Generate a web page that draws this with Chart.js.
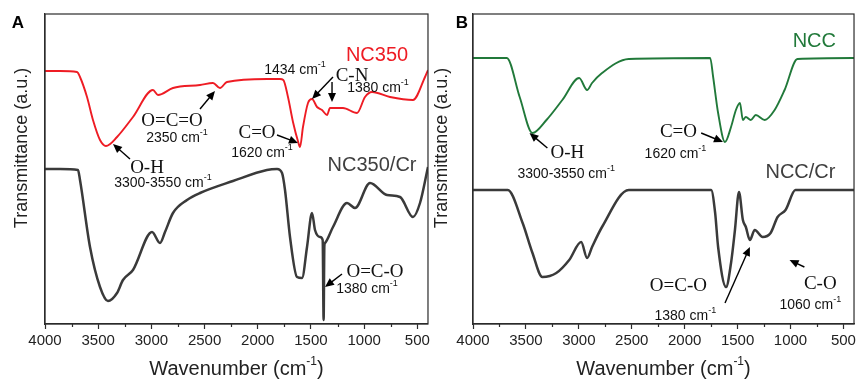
<!DOCTYPE html>
<html>
<head>
<meta charset="utf-8">
<script src="https://cdn.jsdelivr.net/npm/chart.js@4/dist/chart.umd.min.js"></script>
<style>
  html, body { margin: 0; padding: 0; background: #fff; }
  #wrap { position: relative; width: 859px; height: 386px; }
  .panel { position: absolute; top: 0; width: 433px; height: 386px; }
  #pa { left: 0; }
  #pb { left: 426px; }
</style>
</head>
<body>
<div id="wrap">
  <div class="panel" id="pa"><canvas id="chartA"></canvas></div>
  <div class="panel" id="pb"><canvas id="chartB"></canvas></div>
</div>
<script>
// FTIR spectra, wavenumber (cm-1) vs transmittance (a.u.)
var xTicks = [4000, 3500, 3000, 2500, 2000, 1500, 1000, 500];

var nc350Wn = [4000, 3859, 3699, 3671, 3605, 3549, 3483, 3427, 3323, 3173, 2985, 2938, 2797, 2543, 2421, 2355, 2290, 1914, 1792, 1760, 1716, 1669, 1620, 1603, 1575, 1528, 1490, 1443, 1396, 1349, 1321, 1199, 1067, 992, 926, 757, 541, 428, 400];
var nc350T  = [253, 253, 252, 247, 227, 204, 184, 178, 187, 207, 234, 229, 236, 239, 241, 236, 242, 245, 245, 244, 227, 202, 182, 177, 197, 221, 225, 217, 214, 209, 216, 216, 211, 227, 232, 227, 224, 247, 254];

var nc350CrWn = [4000, 3859, 3690, 3671, 3577, 3483, 3408, 3323, 3267, 3173, 2994, 2919, 2872, 2797, 2665, 2543, 2233, 1914, 1819, 1772, 1744, 1697, 1631, 1584, 1537, 1490, 1462, 1415, 1390, 1381, 1374, 1368, 1293, 1161, 1086, 945, 785, 663, 541, 475, 400];
var nc350CrT  = [155, 155, 154, 144, 77, 37, 23, 31, 44, 54, 92, 81, 92, 111, 124, 131, 143, 154, 155, 151, 134, 87, 47, 46, 77, 111, 94, 87, 84, 4, 78, 81, 97, 121, 116, 141, 129, 127, 107, 121, 157];

var nccWn = [4000, 3681, 3559, 3438, 3306, 3156, 2997, 2922, 2875, 2781, 2528, 1759, 1731, 1684, 1619, 1562, 1516, 1478, 1450, 1422, 1375, 1328, 1244, 1150, 1056, 934, 400];
var nccT  = [266, 266, 227, 191, 204, 224, 246, 234, 241, 251, 265, 266, 247, 211, 182, 197, 214, 221, 204, 207, 204, 209, 204, 214, 234, 265, 266];

var nccCrWn = [4000, 3672, 3531, 3438, 3344, 3213, 3091, 2978, 2922, 2875, 2781, 2528, 1750, 1712, 1684, 1609, 1562, 1525, 1487, 1450, 1422, 1384, 1338, 1263, 1188, 1122, 1047, 953, 400];
var nccCrT  = [134, 134, 101, 71, 47, 51, 64, 82, 66, 77, 97, 134, 134, 111, 77, 37, 61, 94, 132, 104, 97, 84, 94, 87, 91, 107, 114, 134, 134];

function pts(xs, ys) {
  return xs.map(function (x, i) { return { x: x, y: ys[i] }; });
}

var SANS = '"Liberation Sans", Arial, sans-serif';
var SERIF = '"Liberation Serif", "Times New Roman", serif';
var AXIS = '#2b2b2b';

// text with optional superscript pieces, centred on (cx, cy)
function drawRich(ctx, parts, cx, cy, size, family, color) {
  var small = Math.round(size * 0.62);
  var widths = parts.map(function (p) {
    ctx.font = (p.sup ? small : size) + 'px ' + family;
    return ctx.measureText(p.t).width;
  });
  var total = widths.reduce(function (a, b) { return a + b; }, 0);
  var x = cx - total / 2;
  ctx.fillStyle = color;
  ctx.textAlign = 'left';
  ctx.textBaseline = 'middle';
  parts.forEach(function (p, i) {
    ctx.font = (p.sup ? small : size) + 'px ' + family;
    ctx.fillText(p.t, x, p.sup ? cy - size * 0.38 : cy);
    x += widths[i];
  });
}

function arrow(ctx, x1, y1, x2, y2) {
  var a = Math.atan2(y2 - y1, x2 - x1);
  var L = 9, W = 4;
  ctx.strokeStyle = '#000';
  ctx.fillStyle = '#000';
  ctx.lineWidth = 1.4;
  ctx.beginPath();
  ctx.moveTo(x1, y1);
  ctx.lineTo(x2 - Math.cos(a) * L * 0.8, y2 - Math.sin(a) * L * 0.8);
  ctx.stroke();
  ctx.beginPath();
  ctx.moveTo(x2, y2);
  ctx.lineTo(x2 - Math.cos(a) * L - Math.sin(a) * W, y2 - Math.sin(a) * L + Math.cos(a) * W);
  ctx.lineTo(x2 - Math.cos(a) * L + Math.sin(a) * W, y2 - Math.sin(a) * L - Math.cos(a) * W);
  ctx.closePath();
  ctx.fill();
}

var decorPlugin = {
  id: 'decor',
  afterDraw: function (chart, args, o) {
    var ctx = chart.ctx, ca = chart.chartArea;
    var xs = chart.scales.x, ys = chart.scales.y;
    ctx.save();
    // frame
    ctx.strokeStyle = AXIS;
    ctx.lineWidth = 1.2;
    ctx.strokeRect(ca.left, ca.top, ca.right - ca.left, ca.bottom - ca.top);
    // minor ticks
    ctx.beginPath();
    xTicks.forEach(function (v) {
      var m = v - 250;
      if (m < xs.min) return;
      var px = Math.round(xs.getPixelForValue(m)) + 0.5;
      ctx.moveTo(px, ca.bottom);
      ctx.lineTo(px, ca.bottom + 3);
    });
    ctx.stroke();
    // panel letter
    ctx.fillStyle = '#000';
    ctx.font = 'bold 17px ' + SANS;
    ctx.textAlign = 'center';
    ctx.textBaseline = 'middle';
    ctx.fillText(o.letter, o.letterX, 23);
    // y title
    ctx.save();
    ctx.translate(o.yTitleX, 148);
    ctx.rotate(-Math.PI / 2);
    ctx.font = '18px ' + SANS;
    ctx.fillStyle = '#222';
    ctx.fillText('Transmittance (a.u.)', 0, 0);
    ctx.restore();
    // x title
    drawRich(ctx, [{ t: 'Wavenumber (cm' }, { t: '-1', sup: true }, { t: ')' }],
      (ca.left + ca.right) / 2, 369, 20, SANS, '#222');
    // annotations
    o.notes.forEach(function (n) {
      var px = xs.getPixelForValue(n.x), py = ys.getPixelForValue(n.y);
      if (n.serif) drawRich(ctx, [{ t: n.t }], px, py, 19, SERIF, '#111');
      else if (n.name) drawRich(ctx, [{ t: n.t }], px, py, 20, SANS, n.color);
      else drawRich(ctx, [{ t: n.t }, { t: '-1', sup: true }], px, py, 14, SANS, '#111');
    });
    o.arrows.forEach(function (a) {
      arrow(ctx, xs.getPixelForValue(a[0]), ys.getPixelForValue(a[1]),
        xs.getPixelForValue(a[2]), ys.getPixelForValue(a[3]));
    });
    ctx.restore();
  }
};

function makeChart(id, sets, yWidth, padRight, decor) {
  return new Chart(document.getElementById(id), {
    type: 'line',
    data: {
      datasets: sets.map(function (s) {
        return {
          label: s.label,
          data: s.data,
          borderColor: s.color,
          borderWidth: s.width,
          pointRadius: 0,
          fill: false,
          cubicInterpolationMode: 'monotone'
        };
      })
    },
    options: {
      responsive: true,
      maintainAspectRatio: false,
      animation: false,
      layout: { padding: { top: 14, right: padRight, bottom: 0, left: 0 } },
      plugins: { legend: { display: false }, tooltip: { enabled: false }, decor: decor },
      scales: {
        x: {
          type: 'linear',
          reverse: true,
          min: 400,
          max: 4000,
          afterBuildTicks: function (scale) {
            scale.ticks = xTicks.map(function (v) { return { value: v }; });
          },
          afterFit: function (scale) { scale.height = 62; },
          grid: { drawOnChartArea: false, drawTicks: true, tickLength: 5, color: AXIS, tickWidth: 1.2 },
          border: { display: true, color: AXIS, width: 1.2 },
          ticks: {
            color: '#222', font: { family: SANS, size: 15 }, padding: 3, maxRotation: 0,
            callback: function (v) { return String(v); }
          }
        },
        y: {
          min: 0,
          max: 310,
          afterFit: function (scale) { scale.width = yWidth; },
          grid: { display: false },
          border: { display: true, color: AXIS, width: 1.2 },
          ticks: { display: false }
        }
      }
    },
    plugins: [decorPlugin]
  });
}

makeChart('chartA', [
  { label: 'NC350', data: pts(nc350Wn, nc350T), color: '#ee1c24', width: 1.9 },
  { label: 'NC350/Cr', data: pts(nc350CrWn, nc350CrT), color: '#3a3a3a', width: 2.5 }
], 45, 5, {
  letter: 'A', letterX: 18, yTitleX: 22,
  notes: [
    { t: 'NC350', name: true, color: '#ee1c24', x: 879, y: 269 },
    { t: 'NC350/Cr', name: true, color: '#3f3f3f', x: 926, y: 159 },
    { t: 'O=C=O', serif: true, x: 2806, y: 203 },
    { t: '2350 cm', x: 2759, y: 186 },
    { t: 'O-H', serif: true, x: 3041, y: 156 },
    { t: '3300-3550 cm', x: 2891, y: 141 },
    { t: 'C=O', serif: true, x: 2007, y: 191 },
    { t: '1620 cm', x: 1960, y: 171 },
    { t: '1434 cm', x: 1650, y: 254 },
    { t: 'C-N', serif: true, x: 1114, y: 248 },
    { t: '1380 cm', x: 870, y: 236 },
    { t: 'O=C-O', serif: true, x: 898, y: 52 },
    { t: '1380 cm', x: 973, y: 35 }
  ],
  arrows: [
    [2543, 215, 2402, 233],
    [3201, 165, 3361, 180],
    [1819, 189, 1622, 181],
    [1293, 247, 1490, 225],
    [1302, 242, 1302, 222],
    [1208, 50, 1368, 37]
  ]
});

makeChart('chartB', [
  { label: 'NCC', data: pts(nccWn, nccT), color: '#21793a', width: 1.9 },
  { label: 'NCC/Cr', data: pts(nccCrWn, nccCrT), color: '#3a3a3a', width: 2.5 }
], 47, 2, {
  letter: 'B', letterX: 36, yTitleX: 16,
  notes: [
    { t: 'NCC', name: true, color: '#21793a', x: 775, y: 283 },
    { t: 'NCC/Cr', name: true, color: '#3f3f3f', x: 906, y: 152 },
    { t: 'O-H', serif: true, x: 3109, y: 171 },
    { t: '3300-3550 cm', x: 3119, y: 150 },
    { t: 'C=O', serif: true, x: 2059, y: 192 },
    { t: '1620 cm', x: 2087, y: 170 },
    { t: 'O=C-O', serif: true, x: 2059, y: 38 },
    { t: '1380 cm', x: 1994, y: 8 },
    { t: 'C-O', serif: true, x: 719, y: 40 },
    { t: '1060 cm', x: 813, y: 19 }
  ],
  arrows: [
    [3297, 176, 3466, 191],
    [1844, 191, 1638, 182],
    [1619, 21, 1384, 77],
    [869, 57, 1009, 64]
  ]
});
</script>
</body>
</html>
